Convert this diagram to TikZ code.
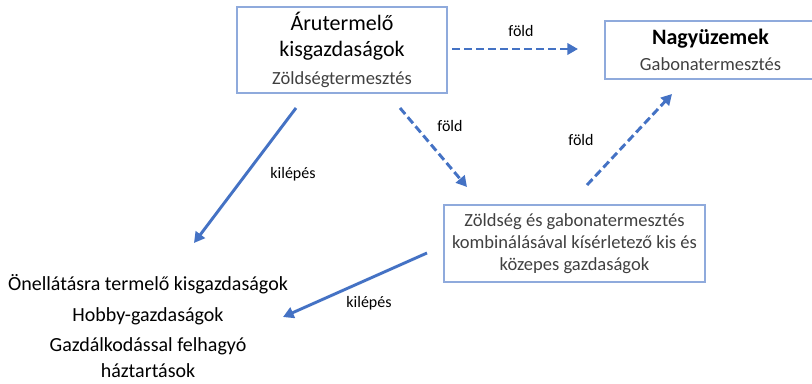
\documentclass[tikz,border=0pt]{standalone}
\usepackage{fontspec}
\setmainfont{Carlito}
\usetikzlibrary{arrows.meta}
\definecolor{boxline}{HTML}{8FAADC}
\definecolor{flowblue}{HTML}{4472C4}
\definecolor{subgray}{HTML}{404040}
\newcommand{\titlefont}{\fontsize{16.5}{19}\selectfont}
\newcommand{\subfont}{\fontsize{13.9}{17}\selectfont}
\begin{document}
\begin{tikzpicture}[x=0.75pt, y=-0.75pt,
  farm/.style={rectangle, draw=boxline, line width=0.9pt, inner sep=0pt, align=center, font=\titlefont},
  flow/.style={draw=flowblue, line width=2.2pt, -{Triangle[length=8pt, width=8.5pt]}},
  land/.style={flow, dash pattern=on 6pt off 3pt},
  tag/.style={font=\fontsize{12}{14}\selectfont, text=black}]
  \useasboundingbox (0, 0) rectangle (812, 384);
  % boxes
  \node (aru) [farm, minimum height=64.5pt, minimum width=157.5pt] at (342, 50)
    {Árutermelő\\kisgazdaságok\\[2pt]{\subfont\color{subgray}Zöldségtermesztés}};
  \node (nagy) [farm, minimum height=43.5pt, minimum width=158.25pt] at (710.5, 50)
    {\textbf{Nagyüzemek}\\{\subfont\color{subgray}Gabonatermesztés}};
  \node (vegyes) [farm, minimum height=57.75pt, minimum width=195.75pt, font=\fontsize{13.9}{16.75}\selectfont, text=subgray] at (574.5, 243.5)
    {Zöldség és gabonatermesztés\\kombinálásával kísérletező kis és\\közepes gazdaságok};
  \node (onellato) [align=center, inner sep=0pt, font=\fontsize{15}{19}\selectfont] at (148, 326)
    {Önellátásra termelő kisgazdaságok\\[4pt]Hobby-gazdaságok\\[4pt]Gazdálkodással felhagyó\\háztartások};
  % connector ends
  \coordinate (aru-fold-a) at (452, 49);
  \coordinate (nagy-fold-a) at (578, 49);
  \coordinate (aru-fold-b) at (400, 108);
  \coordinate (vegyes-fold-b) at (467, 187);
  \coordinate (vegyes-fold-c) at (587, 185);
  \coordinate (nagy-fold-c) at (672, 94);
  \coordinate (aru-kilep) at (296, 108);
  \coordinate (onellato-kilep-a) at (194, 243);
  \coordinate (vegyes-kilep) at (427, 253);
  \coordinate (onellato-kilep-b) at (283, 317);
  % arrows
  \draw [land] (aru-fold-a) -- (nagy-fold-a);
  \draw [land] (aru-fold-b) -- (vegyes-fold-b);
  \draw [land] (vegyes-fold-c) -- (nagy-fold-c);
  \draw [flow] (aru-kilep) -- (onellato-kilep-a);
  \draw [flow] (vegyes-kilep) -- (onellato-kilep-b);
  % labels
  \node (fold-a) [tag] at (521, 31) {föld};
  \node (fold-b) [tag] at (450, 126) {föld};
  \node (fold-c) [tag] at (581, 140) {föld};
  \node (kilep-a) [tag] at (293, 174) {kilépés};
  \node (kilep-b) [tag] at (369, 303) {kilépés};
\end{tikzpicture}
\end{document}
